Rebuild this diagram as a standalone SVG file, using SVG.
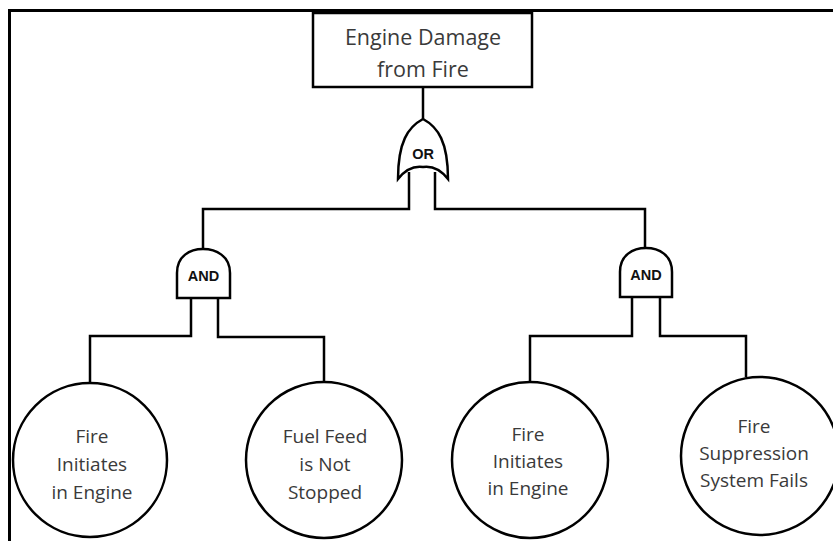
<svg xmlns="http://www.w3.org/2000/svg" width="833" height="541" viewBox="0 0 833 541">
  <style>
    .shape { fill: #ffffff; stroke: #000000; stroke-width: 2.5; }
    .wire { fill: none; stroke: #000000; stroke-width: 2.5; stroke-linejoin: miter; }
    .frame { fill: none; stroke: #000000; stroke-width: 3; }
    .label { font-family: "Open Sans", "Liberation Sans", sans-serif; font-size: 19px; fill: #3a3a3a; text-anchor: middle; }
    .top { font-size: 21.5px; }
    .gate { font-family: "Liberation Sans", "DejaVu Sans", sans-serif; font-size: 14.5px; font-weight: bold; fill: #111111; text-anchor: middle; }
  </style>

  <rect width="833" height="541" fill="#ffffff"/>
  <!-- outer frame (open on the right and bottom) -->
  <polyline class="frame" points="9.5,541 9.5,10.5 833,10.5"/>

  <!-- connectors -->
  <g id="connectors">
    <line class="wire" x1="423" y1="87" x2="423" y2="119"/>
    <polyline class="wire" points="409,172 409,209 203,209 203,249"/>
    <polyline class="wire" points="435,172 435,209 645,209 645,249"/>
    <polyline class="wire" points="191,298 191,336 90,336 90,383"/>
    <polyline class="wire" points="218,298 218,337 324,337 324,382"/>
    <polyline class="wire" points="632,297 632,336 530,336 530,382"/>
    <polyline class="wire" points="660,297 660,336 746,336 746,377"/>
  </g>

  <!-- top event -->
  <g id="top-event">
    <rect class="shape" x="313" y="13" width="219" height="74"/>
    <text class="label top" x="423" y="45">Engine Damage</text>
    <text class="label top" x="423" y="77">from Fire</text>
  </g>

  <!-- OR gate -->
  <g id="or-gate">
    <path class="shape" d="M423,119 C438,127 448,142 448,179 Q437,165 423,167 Q409,165 398,179 C398,142 408,127 423,119 Z"/>
    <text class="gate" x="423" y="159">OR</text>
  </g>

  <!-- AND gates -->
  <g id="and-left">
    <path class="shape" d="M177,298 L177,273 C177,256 190,249 203,249 C216,249 230,256 230,273 L230,298 Z"/>
    <text class="gate" x="203.5" y="281">AND</text>
  </g>
  <g id="and-right">
    <path class="shape" d="M620,297 L620,272 C620,255 633,248 646,248 C659,248 672,255 672,272 L672,297 Z"/>
    <text class="gate" x="646" y="280">AND</text>
  </g>

  <!-- basic events -->
  <g id="event-fire-left">
    <circle class="shape" cx="90" cy="460" r="77"/>
    <text class="label" x="92" y="443">Fire</text>
    <text class="label" x="92" y="471">Initiates</text>
    <text class="label" x="92" y="499">in Engine</text>
  </g>
  <g id="event-fuel-feed">
    <circle class="shape" cx="324" cy="460" r="78"/>
    <text class="label" x="325" y="443">Fuel Feed</text>
    <text class="label" x="325" y="471">is Not</text>
    <text class="label" x="325" y="499">Stopped</text>
  </g>
  <g id="event-fire-right">
    <circle class="shape" cx="530" cy="460" r="78"/>
    <text class="label" x="528" y="441">Fire</text>
    <text class="label" x="528" y="468">Initiates</text>
    <text class="label" x="528" y="495">in Engine</text>
  </g>
  <g id="event-suppression">
    <circle class="shape" cx="760" cy="456" r="79"/>
    <text class="label" x="754" y="433">Fire</text>
    <text class="label" x="754" y="460">Suppression</text>
    <text class="label" x="754" y="487">System Fails</text>
  </g>
</svg>
